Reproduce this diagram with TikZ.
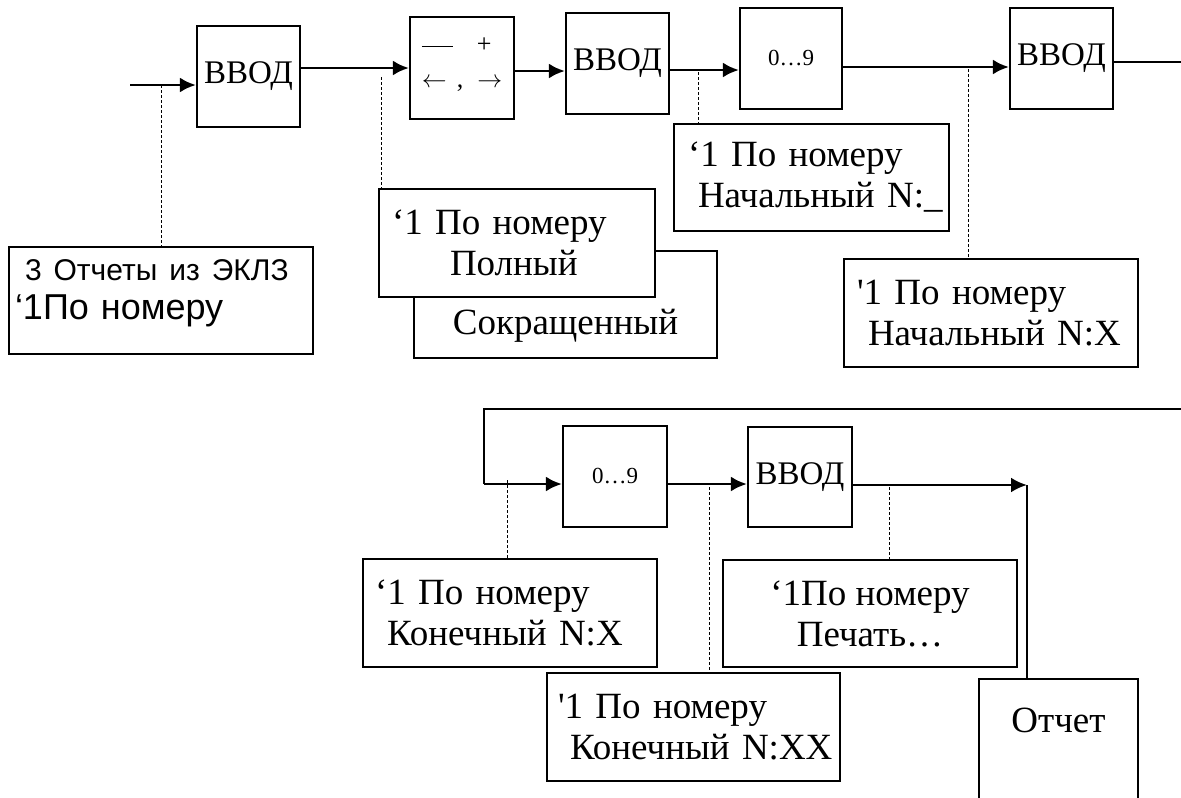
\documentclass[tikz,border=0pt]{standalone}
\usepackage{fontspec}
\setmainfont{Liberation Serif}
\setsansfont{Liberation Sans}
\usetikzlibrary{arrows.meta}

\begin{document}
\begin{tikzpicture}[x=1pt, y=-1pt,
  key/.style={draw, line width=2.2pt, inner sep=0pt, align=left, minimum width=103pt, minimum height=101pt, font=\fontsize{33}{38}\selectfont},
  digits/.style={key, font=\fontsize{23}{28}\selectfont},
  screen/.style={draw, fill=white, line width=2.2pt, inner ysep=0pt, align=left, font=\fontsize{37}{41}\selectfont},
  flow/.style={line width=2.8pt, -{Latex[length=16pt, width=15pt]}},
  wire/.style={line width=2.2pt},
  callout/.style={line width=0.9pt, dash pattern=on 3pt off 2pt}]

\useasboundingbox (0,0) rectangle (1181,798);

% top row of keys
\node[key] (vvodA) at (248.5,76.5) {ВВОД};
\node[key, minimum width=104pt, minimum height=102pt, font=\fontsize{26}{35}\selectfont, text depth=10pt] (keys) at (462,68)
  {\rule[6pt]{31pt}{0.9pt}\hspace{24pt}+\\$\leftarrow$\hspace{10pt},\hspace{14pt}$\rightarrow$};
\node[key] (vvodB) at (617.5,63.5) {ВВОД};
\node[digits, minimum width=102pt] (digA) at (791,58.5) {0…9};
\node[key] (vvodC) at (1061.5,58.5) {ВВОД};

% screens of the top row
\node[screen, font=\sffamily\fontsize{36}{39}\selectfont, inner xsep=6pt, text width=292pt, minimum height=107pt, text depth=60pt] (repA) at (161,300.5)
  {\hspace*{10pt}{\fontsize{30}{34}\selectfont 3 Отчеты из ЭКЛЗ}\\‘1По номеру};
\node[screen, minimum width=303pt, minimum height=107pt, text height=60pt, text depth=0pt] (short) at (565.5,304.5) {Сокращенный};
\node[screen, inner xsep=13pt, text width=250pt, minimum height=108pt] (full) at (517,243)
  {‘1 По номеру\\\hspace*{58pt}Полный};
\node[screen, inner xsep=14pt, text width=247pt, minimum height=107pt] (start) at (811.5,177.5)
  {‘1 По номеру\\\hspace*{10pt}\mbox{Начальный N:\_}};
\node[screen, inner xsep=13pt, text width=268pt, minimum height=108pt] (startX) at (991,313)
  {\textquotesingle1 По номеру\\\hspace*{11pt}\mbox{Начальный N:X}};

% top row connectors
\coordinate (in) at (130,85);
\coordinate (outA) at (1181,62);
\draw[flow] (in) -- (in -| vvodA.west);
\draw[flow] (vvodA.east |- keys.west) -- (keys.west);
\draw[flow] ([yshift=-3pt]keys.east) -- ([yshift=-3pt]keys.east -| vvodB.west);
\draw[flow] ([yshift=-6.5pt]vvodB.east) -- ([yshift=-6.5pt]vvodB.east -| digA.west);
\draw[flow] ([yshift=-8.5pt]digA.east) -- ([yshift=-8.5pt]digA.east -| vvodC.west);
\draw[wire] (vvodC.east |- outA) -- (outA);

\coordinate (tapA) at (381,77);
\coordinate (tapB) at (698,72);
\coordinate (tapC) at (968,69);
\draw[callout] (in -| repA.north) -- (repA.north);
\draw[callout] (tapA) -- (tapA |- full.north);
\draw[callout] (tapB) -- (tapB |- start.north);
\draw[callout] (tapC) -- (tapC |- startX.north);

% bottom row
\node[digits, minimum width=104pt] (digB) at (615,476.5) {0…9};
\node[key, minimum width=104pt, minimum height=100pt] (vvodD) at (800,477) {ВВОД};

\node[screen, inner xsep=12pt, text width=270pt, minimum height=108pt] (endX) at (510,613)
  {‘1 По номеру\\\hspace*{12pt}\mbox{Конечный N:X}};
\node[screen, inner xsep=11pt, text width=271pt, minimum height=108pt] (endXX) at (693.5,727)
  {\textquotesingle1 По номеру\\\hspace*{12pt}\mbox{Конечный N:XX}};
\node[screen, align=center, minimum width=294pt, minimum height=107pt] (print) at (870,613.5)
  {‘1По номеру\\Печать…};
\node[screen, minimum width=159pt, minimum height=124pt, text depth=42pt] (report) at (1058.5,741) {Отчет};

% bottom row connectors
\coordinate (backR) at (1181,409);
\coordinate (backL) at (484,409);
\coordinate (backB) at (484,484);
\coordinate (turn) at (1027,485);
\draw[wire] (backR) -- (backL) -- (backB);
\draw[flow] (backB) -- (backB -| digB.west);
\draw[flow] (backB -| digB.east) -- (backB -| vvodD.west);
\draw[flow] (turn -| vvodD.east) -- (turn);
\draw[wire] (turn) -- (turn |- report.north);

\coordinate (tapD) at (507,480);
\coordinate (tapE) at (709,487);
\coordinate (tapF) at (889,487);
\draw[callout] (tapD) -- (tapD |- endX.north);
\draw[callout] (tapE) -- (tapE |- endXX.north);
\draw[callout] (tapF) -- (tapF |- print.north);

\end{tikzpicture}
\end{document}
